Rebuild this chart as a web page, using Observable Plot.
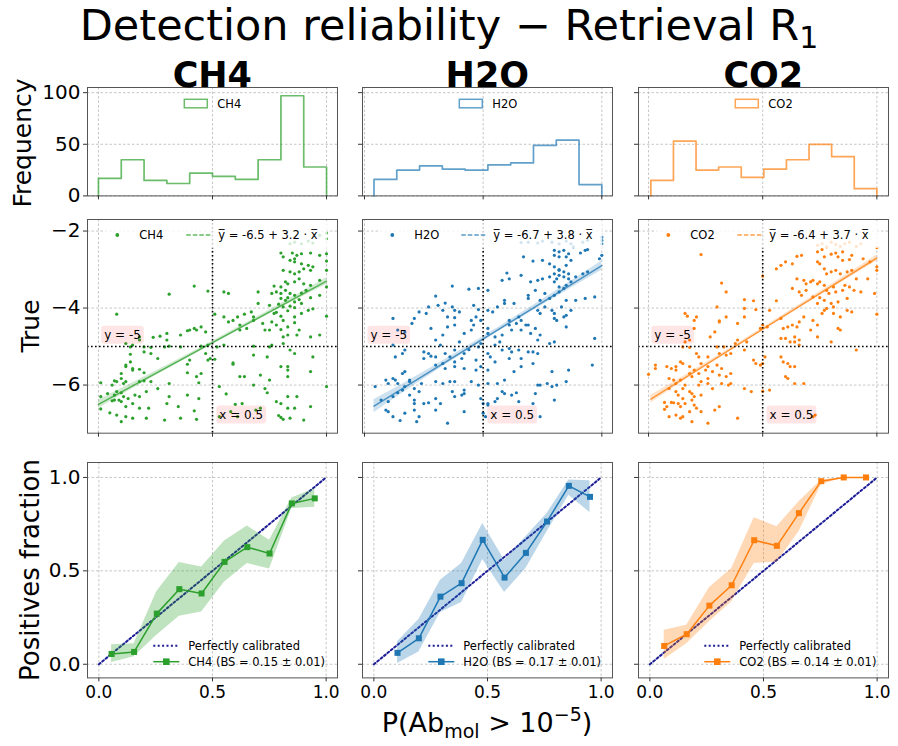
<!DOCTYPE html>
<html><head><meta charset="utf-8">
<script src="https://cdn.jsdelivr.net/npm/d3@7"></script>
<script src="https://cdn.jsdelivr.net/npm/@observablehq/plot@0.6"></script>
<style>
body{margin:0;background:#fff;}
#fig{position:relative;width:898px;height:746px;overflow:hidden;background:#fff;font-family:'DejaVu Sans',sans-serif;}
</style></head><body><div id="fig"></div>
<script>
// ---------------- DATA ----------------
const speciesNames = ["CH4", "H2O", "CO2"];
const speciesColors = ["#2ca02c", "#1f77b4", "#ff7f0e"];

// histogram counts (10 bins between data min and max)
const ch4HistCounts = [17, 35, 15, 12, 22, 19, 16, 35, 97, 28];
const h2oHistCounts = [16, 25, 29, 26, 25, 30, 32, 49, 54, 11];
const co2HistCounts = [15, 53, 25, 28, 18, 26, 35, 50, 38, 7];
const probMin = [0.0, 0.04, 0.01];
const probMax = [1.0, 1.0, 1.0];

// regression  y = a + b x
const regIntercepts = [-6.5, -6.7, -6.4];
const regSlopes = [3.2, 3.8, 3.7];
const bandXs = [0.25, 0.5, 0.75];
const ch4BandHalf = [0.11, 0.06, 0.04, 0.05, 0.09];
const h2oBandHalf = [0.17, 0.09, 0.06, 0.07, 0.12];
const co2BandHalf = [0.10, 0.05, 0.04, 0.05, 0.08];

// scatter: [P(Ab>1e-5), true log abundance]
const ch4Points = [[1.00,-2.05],[1.00,-2.20],[0.97,-2.11],[0.86,-2.29],[0.89,-2.33],[0.92,-2.26],[0.94,-2.31],[0.84,-2.33],
[0.80,-2.57],[0.81,-2.67],[0.85,-2.57],[0.86,-2.72],[0.87,-2.63],[0.89,-2.59],[0.93,-2.57],[0.97,-2.63],[1.00,-2.59],
[0.84,-2.76],[0.86,-2.80],[0.89,-2.85],[0.92,-2.89],[0.94,-2.93],[1.00,-2.78],[1.00,-3.02],
[0.81,-3.02],[0.84,-3.06],[0.86,-3.11],[0.88,-3.06],[0.90,-2.98],[0.93,-3.02],[0.97,-3.28],
[0.77,-3.43],[0.80,-3.45],[0.82,-3.32],[0.83,-3.37],[0.86,-3.32],[0.88,-3.24],[0.90,-3.37],[0.93,-3.41],[1.00,-3.45],
[0.78,-3.58],[0.80,-3.62],[0.82,-3.54],[0.84,-3.62],[0.86,-3.67],[0.89,-3.61],[0.91,-3.54],[0.97,-3.67],
[0.80,-3.75],[0.82,-3.80],[0.83,-3.73],[0.86,-3.84],[0.88,-3.78],[0.93,-3.73],
[0.75,-3.93],[0.79,-3.90],[0.81,-3.97],[0.84,-3.95],[0.86,-3.99],[0.89,-3.88],[0.92,-4.06],[0.94,-4.02],[1.00,-4.21],
[0.77,-4.14],[0.78,-4.11],[0.80,-4.21],[0.83,-4.07],[0.86,-4.23],[0.89,-4.14],
[0.76,-4.36],[0.78,-4.44],[0.81,-4.32],[0.83,-4.49],[0.86,-4.38],[0.88,-4.57],
[0.75,-4.57],[0.80,-4.56],[0.81,-4.75],[0.83,-4.70],[0.87,-4.70],[0.93,-4.75],[0.97,-4.70],
[0.51,-4.16],[0.55,-4.23],[0.57,-4.36],[0.59,-4.32],[0.61,-4.23],[0.64,-4.16],[0.67,-4.10],[0.68,-4.23],[0.70,-3.88],[0.62,-4.44],[0.65,-4.53],[0.68,-4.32],[0.72,-4.40],[0.73,-4.57],[0.62,-4.57],[0.55,-3.58],[0.57,-3.62],[0.48,-3.56],[0.42,-3.43],[0.31,-3.64],[0.70,-3.58],[0.76,-3.62],
[0.52,-5.01],[0.55,-4.96],[0.68,-4.99],[0.75,-5.01],[0.76,-4.96],[0.81,-4.92],[0.84,-5.09],[0.86,-5.18],[0.94,-5.27],
[0.51,-5.33],[0.59,-5.42],[0.59,-5.46],[0.68,-5.22],[0.74,-5.27],[0.80,-5.52],[0.83,-5.52],[0.83,-5.61],[0.93,-5.65],[0.62,-5.78],[0.64,-5.78],[0.71,-5.74],[0.83,-5.78],[0.75,-5.87],[0.68,-6.00],[0.53,-6.04],[0.56,-6.23],[0.73,-6.09],[0.74,-6.20],[0.78,-6.43],[0.80,-6.48],[0.83,-6.30],[0.87,-6.30],[1.00,-6.04],[0.60,-6.50],[0.63,-6.48],[0.58,-6.69],[0.61,-6.82],[0.69,-6.65],[0.71,-6.60],[0.83,-6.60],[0.86,-6.60],[0.93,-6.56],[0.80,-6.84],[0.81,-6.89],[0.79,-6.79],[0.84,-6.86],[0.90,-6.91],[0.53,-6.82],
[0.08,-4.16],[0.18,-4.75],[0.24,-4.76],[0.27,-4.73],[0.30,-4.66],[0.30,-4.83],[0.36,-4.70],[0.39,-4.59],[0.40,-4.57],[0.42,-4.53],[0.43,-4.57],[0.45,-4.49],[0.47,-4.62],[0.48,-4.96],[0.45,-4.99],[0.36,-5.01],[0.31,-4.99],[0.29,-5.01],[0.23,-5.02],[0.20,-5.01],[0.15,-4.96],[0.14,-5.01],[0.12,-4.92],[0.18,-4.83],
[0.14,-5.20],[0.20,-5.14],[0.23,-5.18],[0.26,-5.31],[0.14,-5.40],[0.12,-5.48],[0.12,-5.52],[0.15,-5.57],[0.15,-5.61],[0.18,-5.59],[0.20,-5.68],[0.10,-5.70],[0.10,-5.83],[0.07,-5.89],[0.08,-5.91],[0.11,-5.96],[0.12,-5.91],[0.01,-5.94],[0.06,-6.00],[0.18,-5.91],[0.20,-5.89],[0.23,-5.91],[0.26,-6.09],[0.39,-5.46],[0.39,-5.68],[0.43,-5.78],[0.45,-5.70],[0.47,-5.18],[0.48,-5.35],[0.49,-5.31],[0.44,-5.94],[0.40,-5.35],[0.31,-5.96],
[0.01,-6.30],[0.04,-6.22],[0.07,-6.26],[0.08,-6.17],[0.10,-6.20],[0.11,-6.30],[0.06,-6.41],[0.07,-6.39],[0.09,-6.39],[0.10,-6.43],[0.13,-6.35],[0.16,-6.26],[0.18,-6.30],[0.21,-6.17],[0.15,-6.48],[0.12,-6.56],[0.01,-6.62],[0.05,-6.72],[0.08,-6.78],[0.10,-6.95],[0.12,-6.82],[0.15,-6.86],[0.18,-6.60],[0.21,-6.86],[0.22,-6.60],[0.29,-6.91],[0.35,-6.56],[0.36,-6.86],[0.42,-6.67],[0.43,-6.89],[0.39,-6.26],[0.44,-6.35],[0.30,-6.48],[0.31,-6.30]];

const h2oPoints = [[0.66,-2.30],[0.69,-2.29],[0.73,-2.31],[0.75,-2.26],[0.79,-2.29],[0.82,-2.33],[0.85,-2.26],[0.87,-2.33],[0.92,-2.29],[0.94,-2.24],[1.00,-2.16],[1.00,-2.24],[1.00,-2.33],
[0.80,-2.50],[0.82,-2.54],[0.84,-2.50],[0.86,-2.59],[0.88,-2.41],[0.91,-2.57],[0.93,-2.50],[0.94,-2.48],[0.80,-2.63],[0.82,-2.67],[0.85,-2.67],
[0.67,-2.67],[0.71,-2.78],[0.75,-2.76],[0.78,-2.85],[0.80,-2.93],[0.82,-3.00],[0.85,-2.89],[0.87,-2.76],[0.82,-3.02],[0.84,-3.06],[0.86,-3.11],[0.80,-3.11],[0.82,-3.15],[0.84,-3.19],[0.86,-3.24],[0.85,-3.41],[0.81,-3.24],
[0.60,-3.09],[0.61,-3.24],[0.58,-3.28],[0.66,-3.15],[0.70,-3.32],[0.73,-3.28],[0.75,-3.24],[0.78,-3.19],[0.80,-3.32],[0.82,-3.45],[0.84,-3.49],[0.87,-3.32],[0.89,-3.19],[0.92,-3.11],[0.94,-3.06],[0.99,-2.72],[1.00,-2.63],
[0.69,-3.67],[0.72,-3.54],[0.74,-3.80],[0.76,-3.62],[0.78,-3.75],[0.80,-3.67],[0.82,-3.58],[0.85,-3.80],[0.89,-3.80],[0.93,-3.75],[0.97,-3.71],
[0.52,-3.54],[0.48,-3.49],[0.44,-3.51],[0.30,-3.69],[0.37,-3.43],[0.21,-4.27],[0.20,-4.40],[0.26,-4.14],[0.23,-4.10],[0.27,-3.97],[0.31,-3.93],[0.34,-3.87],[0.37,-3.97],[0.38,-4.06],[0.33,-4.06],[0.35,-4.23],[0.38,-4.25],[0.40,-4.10],[0.46,-3.93],[0.48,-4.04],[0.49,-4.32],[0.47,-4.23],[0.45,-4.32],[0.52,-4.06],[0.54,-4.10],[0.56,-3.97],[0.59,-3.80],[0.59,-3.88],[0.61,-4.32],[0.63,-3.88],[0.65,-4.23],[0.66,-4.32],[0.68,-4.44],[0.69,-3.75],[0.73,-4.06],[0.74,-4.14],[0.76,-3.97],[0.79,-4.06],[0.80,-4.14],[0.83,-3.97],[0.85,-4.19],[0.87,-4.06],[0.80,-4.27],[0.81,-4.32],[0.84,-4.23],[0.85,-4.49],[0.97,-4.79],
[0.12,-4.27],[0.14,-4.57],[0.17,-4.62],[0.28,-4.53],[0.30,-4.83],[0.33,-4.70],[0.35,-4.49],[0.38,-4.44],[0.40,-4.88],[0.42,-4.66],[0.45,-4.57],[0.46,-4.44],[0.52,-4.53],[0.52,-4.66],[0.55,-4.75],[0.58,-4.70],[0.61,-4.44],[0.62,-4.57],[0.64,-4.40],[0.66,-4.57],[0.69,-4.44],[0.72,-4.53],[0.73,-4.83],[0.70,-4.66],[0.74,-4.70],[0.78,-4.92],[0.80,-4.88],[0.57,-4.88],[0.55,-4.96],[0.49,-4.92],[0.48,-5.01],
[0.12,-4.96],[0.13,-5.27],[0.17,-5.09],[0.16,-5.18],[0.25,-5.14],[0.27,-5.18],[0.28,-5.25],[0.30,-5.27],[0.25,-5.31],[0.32,-4.96],[0.34,-5.18],[0.36,-5.27],[0.38,-5.09],[0.38,-5.40],[0.41,-5.31],[0.42,-5.18],[0.44,-5.08],[0.33,-5.44],[0.30,-5.48],[0.34,-5.57],[0.38,-5.52],[0.42,-5.57],[0.47,-5.35],[0.52,-5.18],[0.53,-5.27],[0.55,-5.40],[0.58,-5.09],[0.61,-5.05],[0.61,-5.31],[0.62,-5.14],[0.65,-5.09],[0.66,-5.31],[0.69,-5.14],[0.71,-5.14],[0.73,-5.18],[0.66,-5.52],[0.71,-5.44],[0.63,-5.65],[0.79,-5.65],[0.86,-5.61],[0.96,-5.48],[0.49,-5.52],[0.47,-5.61],[0.52,-5.61],
[0.045,-6.04],[0.09,-5.87],[0.10,-5.96],[0.12,-5.83],[0.13,-5.87],[0.14,-5.96],[0.16,-5.70],[0.17,-5.65],[0.19,-5.87],[0.19,-5.91],[0.21,-6.09],[0.24,-5.96],[0.30,-5.91],[0.33,-5.96],[0.36,-5.91],[0.38,-5.91],[0.42,-6.13],[0.45,-5.91],[0.48,-6.00],[0.52,-5.96],[0.56,-5.96],[0.59,-5.87],[0.58,-6.17],[0.62,-6.26],[0.64,-6.20],[0.72,-6.22],[0.73,-6.00],[0.74,-6.00],[0.77,-5.96],[0.79,-6.04],[0.81,-6.00],[0.85,-5.91],
[0.07,-6.39],[0.10,-6.43],[0.12,-6.30],[0.14,-6.20],[0.16,-6.13],[0.17,-6.04],[0.19,-6.26],[0.21,-6.39],[0.21,-6.48],[0.23,-6.17],[0.25,-6.48],[0.27,-6.46],[0.30,-6.35],[0.32,-6.48],[0.37,-6.17],[0.38,-6.30],[0.41,-6.26],[0.42,-6.22],[0.49,-6.35],[0.50,-6.48],[0.52,-6.48],[0.52,-6.52],[0.55,-6.43],[0.59,-6.22],[0.56,-6.35],[0.65,-6.43],[0.71,-6.48],[0.74,-6.82],[0.80,-6.39],[0.09,-6.65],[0.10,-6.69],[0.12,-6.82],[0.15,-6.92],[0.17,-6.73],[0.21,-6.65],[0.22,-6.95],[0.23,-6.82],[0.30,-6.65],[0.35,-6.99],[0.42,-6.69],[0.50,-6.73],[0.51,-6.82]];

const co2Points = [[0.23,-2.61],
[0.74,-2.37],[0.76,-2.33],[0.78,-2.41],[0.80,-2.29],[0.82,-2.35],[0.84,-2.40],[0.86,-2.33],[0.88,-2.29],[0.91,-2.40],[0.93,-2.33],
[0.74,-2.54],[0.76,-2.48],[0.77,-2.67],[0.80,-2.60],[0.82,-2.57],[0.83,-2.67],[0.85,-2.54],[0.85,-2.76],[0.88,-2.74],[0.89,-2.63],[0.94,-2.72],[0.97,-2.80],[1.00,-2.43],
[0.65,-2.66],[0.67,-2.63],[0.60,-2.80],[0.63,-2.85],[0.56,-2.98],[0.58,-2.89],[0.74,-2.80],[0.75,-2.85],[0.77,-2.98],[0.78,-3.11],[0.80,-3.06],[0.82,-3.02],[0.84,-3.11],[0.87,-3.06],[0.89,-3.02],[0.91,-3.24],[0.96,-3.24],[1.00,-2.93],[1.00,-3.02],
[0.50,-3.17],[0.65,-3.24],[0.68,-3.28],[0.69,-3.37],[0.71,-3.32],[0.72,-3.28],[0.74,-3.37],[0.75,-3.32],[0.77,-3.41],[0.78,-3.54],[0.79,-3.62],[0.81,-3.45],[0.82,-3.58],[0.85,-3.54],[0.86,-3.41],[0.88,-3.45],[0.90,-3.54],[0.93,-3.58],[0.99,-3.62],[0.63,-3.49],[0.66,-3.58],[0.67,-3.67],[0.69,-3.54],[0.72,-3.71],[0.75,-3.73],[0.74,-3.88],[0.77,-3.80],[0.80,-3.88],[0.81,-3.97],[0.83,-3.84],[0.87,-3.75],[0.87,-4.06],[0.89,-4.10],[1.00,-4.16],[0.84,-4.23],[0.81,-4.14],[0.83,-4.53],[0.78,-4.01],[0.77,-4.06],
[0.32,-3.35],[0.34,-3.58],[0.30,-3.97],[0.31,-4.33],[0.31,-4.36],[0.34,-4.23],[0.39,-4.40],[0.42,-4.01],[0.42,-4.23],[0.47,-4.04],[0.46,-3.81],[0.42,-3.78],[0.49,-4.53],[0.50,-4.44],[0.52,-4.49],[0.53,-4.06],[0.56,-3.81],[0.58,-4.27],[0.59,-4.53],[0.61,-4.49],[0.63,-4.44],[0.65,-4.49],[0.64,-4.75],[0.66,-4.36],[0.68,-4.23],[0.72,-4.32],[0.74,-4.44],[0.76,-4.14],[0.58,-4.79],[0.60,-4.79],[0.62,-4.88],[0.64,-4.88],[0.66,-4.83],[0.66,-4.96],[0.71,-4.57],[0.74,-4.75],[0.80,-4.88],[0.84,-4.57],[0.91,-5.09],
[0.16,-4.14],[0.17,-4.21],[0.20,-4.32],[0.21,-4.23],[0.20,-4.53],[0.27,-4.75],[0.29,-4.62],[0.30,-5.01],[0.33,-5.01],[0.36,-5.18],[0.38,-4.92],[0.39,-4.83],[0.43,-4.88],[0.42,-5.09],[0.34,-5.22],[0.31,-5.18],[0.26,-5.27],[0.26,-5.52],[0.30,-5.48],[0.21,-5.18],[0.22,-5.27],[0.18,-4.83],[0.16,-4.88],[0.15,-5.01],[0.18,-5.02],
[0.03,-5.48],[0.03,-5.57],[0.00,-5.72],[0.08,-5.52],[0.10,-5.57],[0.12,-5.61],[0.12,-5.52],[0.14,-5.40],[0.15,-5.44],[0.18,-5.52],[0.18,-5.70],[0.19,-5.78],[0.20,-5.61],[0.22,-5.70],[0.23,-5.44],[0.25,-5.61],[0.26,-5.83],[0.28,-5.65],[0.31,-5.74],[0.32,-5.57],[0.34,-5.78],[0.36,-5.70],[0.32,-5.96],[0.26,-5.96],[0.23,-5.91],[0.35,-6.00],[0.36,-5.96],[0.28,-6.09],[0.09,-5.83],[0.11,-5.87],[0.12,-5.96],[0.14,-5.87],[0.09,-6.09],[0.12,-6.17],[0.13,-6.26],[0.15,-6.09],[0.16,-6.00],[0.18,-6.17],[0.19,-6.22],[0.20,-6.30],[0.22,-6.00],[0.23,-6.26],[0.15,-6.35],[0.16,-6.48],[0.19,-6.39],[0.20,-6.52],[0.21,-6.60],[0.07,-6.45],[0.07,-6.63],[0.08,-6.56],[0.10,-6.45],[0.11,-6.46],[0.13,-6.48],[0.14,-6.56],[0.09,-6.82],[0.12,-6.78],[0.14,-6.86],[0.15,-6.82],[0.18,-6.69],[0.19,-6.95],[0.26,-6.99],[0.23,-6.69],[0.29,-6.65],[0.31,-6.56],[0.39,-6.86],[0.42,-6.09],[0.45,-6.17],[0.46,-5.35],[0.47,-5.44],[0.49,-5.48],[0.50,-5.44],[0.51,-5.27],[0.50,-6.16],[0.53,-6.13],[0.58,-5.27],[0.59,-5.40],[0.61,-5.44],[0.62,-5.52],[0.64,-5.52],[0.61,-5.83],[0.64,-5.96],[0.68,-5.96],[0.60,-5.78],[0.72,-6.82],[0.73,-6.78]];

// calibration curves
const ch4CalX = [0.056,0.155,0.255,0.354,0.452,0.553,0.653,0.751,0.849,0.950];
const ch4CalY = [0.055,0.066,0.271,0.402,0.379,0.548,0.627,0.593,0.861,0.888];
const ch4CalLo = [0.009,0.040,0.155,0.257,0.280,0.440,0.540,0.510,0.834,0.840];
const ch4CalHi = [0.105,0.110,0.390,0.545,0.520,0.660,0.740,0.664,0.890,0.940];
const h2oCalX = [0.104,0.198,0.293,0.386,0.479,0.575,0.669,0.762,0.858,0.951];
const h2oCalY = [0.061,0.139,0.362,0.434,0.666,0.464,0.596,0.764,0.955,0.896];
const h2oCalLo = [0.004,0.066,0.277,0.330,0.561,0.384,0.512,0.709,0.905,0.812];
const h2oCalHi = [0.120,0.240,0.450,0.540,0.754,0.557,0.682,0.807,0.986,0.982];
const co2CalX = [0.063,0.162,0.262,0.360,0.459,0.559,0.656,0.754,0.853,0.951];
const co2CalY = [0.098,0.161,0.314,0.423,0.664,0.634,0.809,0.980,1.000,1.000];
const co2CalLo = [0.025,0.110,0.227,0.334,0.539,0.548,0.709,0.959,1.000,1.000];
const co2CalHi = [0.182,0.209,0.409,0.512,0.784,0.736,0.870,0.986,1.000,1.000];
const brierScores = ["0.15", "0.17", "0.14"];
const brierErrors = ["0.01", "0.01", "0.01"];

// tick labels
const probTicks = [0, 0.5, 1];
const freqTicks = [0, 50, 100];
const trueTicks = [-2, -4, -6];
const fracTicks = [0, 0.5, 1];

// ---------------- LAYOUT ----------------
const FONT = "'DejaVu Sans', sans-serif";
const frameLeft = [87.3, 362.3, 638.3];
const FW = 250;
const rowsY = {hist: [87.3, 195.7], scat: [219.3, 433], cal: [462.3, 677.7]};
const ML = 60, MR = 14, MT = 12, MB = 36;
const xDomHS = [[-0.048, 1.048], [-0.0084, 1.045], [-0.044, 1.051]];
const xDomCal = [-0.05, 1.05];
const fig = document.getElementById("fig");

const histCounts = [ch4HistCounts, h2oHistCounts, co2HistCounts];
const bandHalf = [ch4BandHalf, h2oBandHalf, co2BandHalf];
const points = [ch4Points, h2oPoints, co2Points];
const cal = [
  [ch4CalX, ch4CalY, ch4CalLo, ch4CalHi],
  [h2oCalX, h2oCalY, h2oCalLo, h2oCalHi],
  [co2CalX, co2CalY, co2CalLo, co2CalHi]
];

const gridStyle = {stroke: "#b8b8b8", strokeOpacity: 1, strokeDasharray: "2.5,2", strokeWidth: 0.8};
const minusFmt = d => d < 0 ? "\u2212" + Math.abs(d) : String(d);
const perfectColor = "#1c1c96";

function panel(col, row, marks, xDomain, yDomain, yTicks, yFmt, showX) {
  const [top, bottom] = rowsY[row];
  const fh = bottom - top;
  const svg = Plot.plot({
    width: FW + ML + MR, height: fh + MT + MB,
    marginLeft: ML, marginRight: MR, marginTop: MT, marginBottom: MB,
    x: {domain: xDomain}, y: {domain: yDomain},
    style: {background: "transparent", overflow: "visible", fontFamily: FONT, color: "black"},
    marks: [
      Plot.gridX(probTicks, gridStyle),
      Plot.gridY(yTicks, gridStyle),
      ...marks,
      Plot.frame({stroke: "#555", strokeWidth: 1}),
      Plot.axisX(probTicks, {tickSize: 4, tickPadding: 4, fontSize: 17, stroke: "#333", fill: "black",
        tickFormat: showX ? d3.format(".1f") : () => "", label: null}),
      Plot.axisY(yTicks, {tickSize: 4, tickPadding: 3, fontSize: 20, stroke: "#333", fill: "black",
        tickFormat: col === 0 ? yFmt : () => "", label: null})
    ]
  });
  svg.style.position = "absolute";
  svg.style.left = (frameLeft[col] - ML) + "px";
  svg.style.top = (top - MT) + "px";
  svg.style.maxWidth = "none";
  fig.appendChild(svg);
  return svg;
}

function addBoxes(svg) {
  svg.querySelectorAll("text").forEach(t => {
    const s = t.textContent;
    if (s === "y = -5" || s === "x = 0.5") {
      const b = t.getBBox();
      const r = document.createElementNS("http://www.w3.org/2000/svg", "rect");
      r.setAttribute("x", b.x - 3); r.setAttribute("y", b.y - 2);
      r.setAttribute("width", b.width + 6); r.setAttribute("height", b.height + 4);
      r.setAttribute("rx", 3);
      r.setAttribute("fill", "red"); r.setAttribute("fill-opacity", 0.1);
      if (t.getAttribute("transform")) r.setAttribute("transform", t.getAttribute("transform"));
      t.parentNode.insertBefore(r, t);
    }
  });
}

for (let c = 0; c < 3; c++) {
  const color = speciesColors[c];
  // ---- histogram (step outline)
  const lo = probMin[c], hi = probMax[c];
  const counts = histCounts[c];
  const edges = d3.range(counts.length + 1).map(i => lo + i * (hi - lo) / counts.length);
  const step = [[edges[0], 0]];
  counts.forEach((v, i) => { step.push([edges[i], v], [edges[i + 1], v]); });
  step.push([edges[edges.length - 1], 0]);
  panel(c, "hist", [
    Plot.line(step, {x: d => d[0], y: d => d[1], stroke: color, strokeOpacity: 0.7, strokeWidth: 1.7})
  ], xDomHS[c], [0, 105], freqTicks, d => String(d), false);

  // ---- scatter with regression
  const a = regIntercepts[c], b = regSlopes[c];
  const bx = [lo, ...bandXs, hi];
  const band = bx.map((x, i) => ({x, y1: a + b * x - bandHalf[c][i], y2: a + b * x + bandHalf[c][i]}));
  const reg = [lo, hi].map(x => ({x, y: a + b * x}));
  const sv = panel(c, "scat", [
    Plot.dot(points[c], {x: d => d[0], y: d => d[1], r: 1.6, fill: color}),
    Plot.areaY(band, {x: "x", y1: "y1", y2: "y2", fill: color, fillOpacity: 0.22, curve: "natural"}),
    Plot.line(reg, {x: "x", y: "y", stroke: color, strokeOpacity: 0.75, strokeWidth: 1.5}),
    Plot.ruleY([-5], {stroke: "black", strokeDasharray: "1.6,2.4", strokeWidth: 1.6}),
    Plot.ruleX([0.5], {stroke: "black", strokeDasharray: "1.6,2.4", strokeWidth: 1.6}),
    Plot.text(["y = -5"], {x: 0.025, y: -4.7, text: d => d, textAnchor: "start", fontSize: 12, fill: "black"}),
    Plot.text(["x = 0.5"], {x: 0.53, y: -6.77, text: d => d, textAnchor: "start", fontSize: 12, fill: "black"})
  ], xDomHS[c], [-7.25, -1.7], trueTicks, minusFmt, false);
  addBoxes(sv);

  // ---- calibration
  const [cx, cy, clo, chi] = cal[c];
  const cd = cx.map((x, i) => ({x, y: cy[i], lo: clo[i], hi: chi[i]}));
  panel(c, "cal", [
    Plot.line([[0, 0], [1, 1]], {x: d => d[0], y: d => d[1], stroke: perfectColor, strokeDasharray: "2,2.4", strokeWidth: 2}),
    Plot.areaY(cd, {x: "x", y1: "lo", y2: "hi", fill: color, fillOpacity: 0.3}),
    Plot.line(cd, {x: "x", y: "y", stroke: color, strokeWidth: 1.5}),
    Plot.dot(cd, {x: "x", y: "y", symbol: "square", r: 3.4, fill: color})
  ], xDomCal, [-0.073, 1.08], fracTicks, d3.format(".1f"), true);
}

// ---------------- TEXT OVERLAY ----------------
let o = `<svg xmlns="http://www.w3.org/2000/svg" width="898" height="746" style="position:absolute;left:0;top:0;font-family:'DejaVu Sans',sans-serif" >`;
o += `<text x="449" y="40" font-size="43" text-anchor="middle">Detection reliability \u2212 Retrieval R<tspan dy="8" font-size="30">1</tspan></text>`;
for (let c = 0; c < 3; c++) {
  const L = frameLeft[c], color = speciesColors[c], name = speciesNames[c];
  o += `<text x="${L + 125}" y="87" font-size="35" font-weight="bold" text-anchor="middle">${name}</text>`;
  // histogram legend
  o += `<rect x="${L + 97}" y="99.3" width="23" height="8.5" fill="none" stroke="${color}" stroke-opacity="0.7" stroke-width="1.5"/>`;
  o += `<text x="${L + 130}" y="107.6" font-size="11.5">${name}</text>`;
  // scatter legend
  o += `<rect x="${L + 18}" y="221" width="222" height="27" fill="white" fill-opacity="0.8"/>`;
  o += `<circle cx="${L + 30}" cy="235" r="1.9" fill="${color}"/>`;
  o += `<text x="${L + 52}" y="239" font-size="11.5">${name}</text>`;
  o += `<line x1="${L + 99}" x2="${L + 123}" y1="235" y2="235" stroke="${color}" stroke-opacity="0.75" stroke-width="1.5" stroke-dasharray="4.5,2"/>`;
  o += `<text x="${L + 131}" y="239" font-size="11.5">y\u0305 = ${regIntercepts[c]} + ${regSlopes[c]} \u00b7 x\u0305</text>`;
  // calibration legend
  o += `<line x1="${L + 66}" x2="${L + 92}" y1="645.7" y2="645.7" stroke="${perfectColor}" stroke-width="2" stroke-dasharray="2,2.4"/>`;
  o += `<text x="${L + 101}" y="649.8" font-size="11.5">Perfectly calibrated</text>`;
  o += `<line x1="${L + 66}" x2="${L + 92}" y1="661.7" y2="661.7" stroke="${color}" stroke-width="1.5"/>`;
  o += `<rect x="${L + 75.7}" y="658.4" width="6.6" height="6.6" fill="${color}"/>`;
  o += `<text x="${L + 101}" y="665.8" font-size="11.5">${name} (BS = ${brierScores[c]} \u00b1 ${brierErrors[c]})</text>`;
}
o += `<text transform="translate(31,143) rotate(-90)" font-size="25" text-anchor="middle">Frequency</text>`;
o += `<text transform="translate(39,326) rotate(-90)" font-size="25" text-anchor="middle">True</text>`;
o += `<text transform="translate(39,570) rotate(-90)" font-size="26" text-anchor="middle">Positives fraction</text>`;
o += `<text x="487" y="732" font-size="27" text-anchor="middle">P(Ab<tspan dy="6" font-size="19">mol</tspan><tspan dy="-6"> &gt; 10</tspan><tspan dy="-11" font-size="19">\u22125</tspan><tspan dy="11">)</tspan></text>`;
o += `</svg>`;
fig.insertAdjacentHTML("beforeend", o);
</script></body></html>
